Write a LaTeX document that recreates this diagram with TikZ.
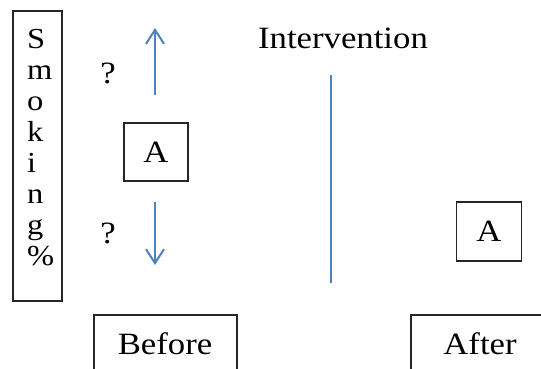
\documentclass[tikz,border=0pt]{standalone}
\usepackage{fontspec}
\setmainfont{Liberation Serif}[FakeStretch=1.12]
\usetikzlibrary{arrows.meta}
\definecolor{arrowblue}{RGB}{79,129,189}
\begin{document}
\begin{tikzpicture}[x=1pt,y=-1pt,
  lbl/.style={font=\fontsize{31}{31}\selectfont, inner sep=0pt},
  framebox/.style={draw=black!85, line width=1.5pt, inner sep=0pt},
  bluearrow/.style={draw=arrowblue, line width=2pt, -{Straight Barb[length=14pt,width=18pt,line width=2pt]}},
  blueline/.style={draw=arrowblue, line width=2.2pt}]
\useasboundingbox (0,0) rectangle (541,369);
\clip (0,0) rectangle (541,369);
% Smoking % axis box
\node[framebox, minimum width=49pt, minimum height=290pt] (smk) at (37.5,156) {};
\node[lbl, align=left, font=\fontsize{29}{31}\selectfont, anchor=north west] (smktxt) at (27,29) {S\\m\\o\\k\\i\\n\\g\\\%};
% question marks
\node[lbl] (q1) at (108,73) {?};
\node[lbl] (q2) at (108,233) {?};
% before A
\node[framebox, lbl, minimum width=64pt, minimum height=58pt] (a1) at (156,152) {A};
% arrows
\coordinate (upS) at (155,95);
\coordinate (upE) at (155,28);
\coordinate (dnS) at (155,202);
\coordinate (dnE) at (155,265);
\draw[bluearrow] (upS) -- (upE);
\draw[bluearrow] (dnS) -- (dnE);
% intervention
\node[lbl, anchor=base] (int) at (343,49) {Intervention};
\coordinate (vTop) at (331,75);
\coordinate (vBot) at (331,283);
\draw[blueline] (vTop) -- (vBot);
% after A
\node[framebox, lbl, minimum width=65pt, minimum height=59pt] (a2) at (489,231.5) {A};
% Before / After boxes
\node[framebox, anchor=north west, minimum width=143pt, minimum height=90pt] (beforebox) at (93,314) {};
\node[lbl, anchor=base] (before) at (165,354) {Before};
\node[framebox, anchor=north west, minimum width=160pt, minimum height=90pt] (afterbox) at (410,314) {};
\node[lbl, anchor=base] (after) at (480,354) {After};
\end{tikzpicture}
\end{document}
